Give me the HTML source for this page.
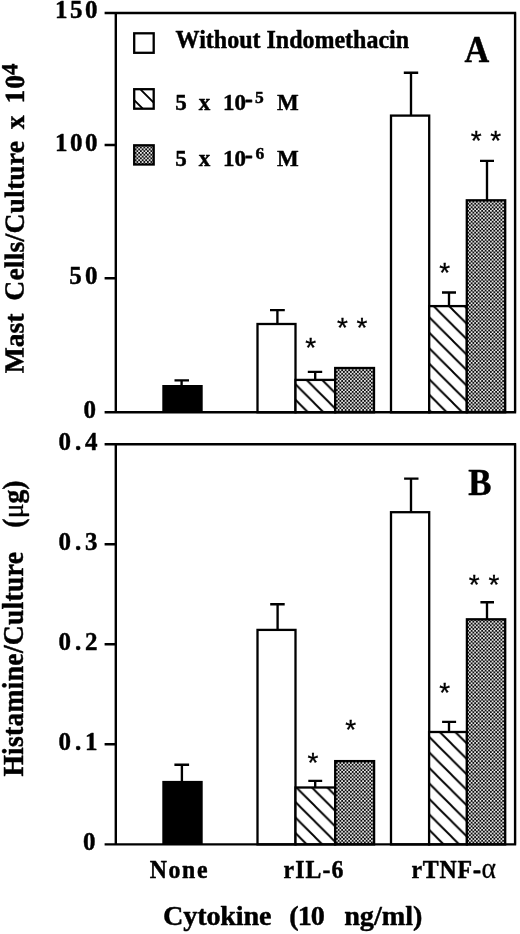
<!DOCTYPE html>
<html lang="en">
<head>
<meta charset="utf-8">
<title>Figure: Mast Cells and Histamine per Culture</title>
<style>
  html, body { margin: 0; padding: 0; background: #ffffff; }
  body { width: 520px; height: 934px; overflow: hidden; }
  svg { display: block; }
  .serif { font-family: "Liberation Serif", "DejaVu Serif", serif; font-weight: bold; fill: #000; stroke: #000; stroke-width: 0.45; stroke-linejoin: round; }
  .sym { font-family: "Liberation Serif", "DejaVu Serif", serif; font-weight: normal; fill: #000; stroke: #000; stroke-width: 0.3; }
  .sans { font-family: "Liberation Sans", "DejaVu Sans", sans-serif; font-weight: normal; fill: #000; stroke: #000; stroke-width: 0.3; }
  .ax { stroke: #000; stroke-width: 2.4; fill: none; stroke-linecap: butt; }
  .bar { stroke: #000; stroke-width: 2.3; }
  .err { stroke: #000; stroke-width: 2.35; fill: none; }
</style>
</head>
<body>
<svg width="520" height="934" viewBox="0 0 520 934">
  <defs>
    <pattern id="hatchA1" patternUnits="userSpaceOnUse" width="15.5" height="15.5" x="4.2" y="0">
      <rect width="15.5" height="15.5" fill="#fff"/>
      <path d="M-1,-1 L16.5,16.5 M-16.5,-1 L1,16.5 M14.5,-1 L32.0,16.5" stroke="#000" stroke-width="1.9" fill="none"/>
    </pattern>
    <pattern id="hatchA2" patternUnits="userSpaceOnUse" width="15.5" height="15.5" x="3.5" y="0">
      <rect width="15.5" height="15.5" fill="#fff"/>
      <path d="M-1,-1 L16.5,16.5 M-16.5,-1 L1,16.5 M14.5,-1 L32.0,16.5" stroke="#000" stroke-width="1.9" fill="none"/>
    </pattern>
    <pattern id="hatchB1" patternUnits="userSpaceOnUse" width="15.5" height="15.5" x="4.9" y="0">
      <rect width="15.5" height="15.5" fill="#fff"/>
      <path d="M-1,-1 L16.5,16.5 M-16.5,-1 L1,16.5 M14.5,-1 L32.0,16.5" stroke="#000" stroke-width="1.9" fill="none"/>
    </pattern>
    <pattern id="hatchB2" patternUnits="userSpaceOnUse" width="15.5" height="15.5" x="2.3" y="0">
      <rect width="15.5" height="15.5" fill="#fff"/>
      <path d="M-1,-1 L16.5,16.5 M-16.5,-1 L1,16.5 M14.5,-1 L32.0,16.5" stroke="#000" stroke-width="1.9" fill="none"/>
    </pattern>
    <pattern id="dots" patternUnits="userSpaceOnUse" width="3.5" height="3.62">
      <rect width="3.5" height="3.62" fill="#0c0c0c"/>
      <circle cx="0.875" cy="0.905" r="0.98" fill="#fff"/>
      <circle cx="2.625" cy="2.715" r="0.98" fill="#fff"/>
    </pattern>
  </defs>

  <rect x="0" y="0" width="520" height="934" fill="#fff"/>

  <!-- ============ PANEL A ============ -->
  <g id="panelA">
    <!-- bars -->
    <rect x="162.3" y="385" width="40.4" height="27.5" fill="#000"/>
    <rect class="bar" x="257.5" y="324" width="38" height="88.3" fill="#fff"/>
    <rect class="bar" x="295.5" y="379.9" width="39.7" height="32.4" fill="url(#hatchA1)" stroke-width="2.6"/>
    <rect class="bar" x="335.2" y="368" width="38.8" height="44.3" fill="url(#dots)"/>
    <rect class="bar" x="391" y="115.6" width="38.2" height="296.7" fill="#fff"/>
    <rect class="bar" x="429.2" y="306.1" width="37.6" height="106.2" fill="url(#hatchA2)"/>
    <rect class="bar" x="466.8" y="200.3" width="38.4" height="212" fill="url(#dots)"/>

    <!-- error bars -->
    <path class="err" d="M181.6,386 V380.3 M174.5,380.3 H189"/>
    <path class="err" d="M277.4,324 V310.1 M270,310.1 H284.8"/>
    <path class="err" d="M315.2,379.9 V371.9 M307.8,371.9 H322.2"/>
    <path class="err" d="M411,115.6 V72.7 M403.8,72.7 H418.2"/>
    <path class="err" d="M449,306 V292.5 M442,292.5 H456" stroke-width="2.8"/>
    <path class="err" d="M487,200.4 V160.9 M480,160.9 H494"/>

    <!-- frame -->
    <path class="ax" d="M104.6,13 H516.2 M115.8,13 V412.3 M515.1,13 V412.3 M104.6,412.3 H516.2"/>
    <path class="ax" d="M104.6,145 H115.8 M104.6,278.2 H115.8"/>

    <!-- tick labels -->
    <text class="serif" font-size="25" letter-spacing="2.5" text-anchor="end" transform="translate(100.1,18.4) scale(1,0.98)">150</text>
    <text class="serif" font-size="25" letter-spacing="2.5" text-anchor="end" transform="translate(100.1,150.5) scale(1,0.98)">100</text>
    <text class="serif" font-size="25" letter-spacing="3.4" text-anchor="end" transform="translate(101.0,283.6) scale(1,0.98)">50</text>
    <text class="serif" font-size="25" text-anchor="end" transform="translate(96.0,417.9) scale(1,0.98)">0</text>

    <!-- legend -->
    <rect class="bar" x="134.2" y="33.3" width="19.5" height="19.5" fill="#fff"/>
    <rect class="bar" x="134.2" y="89.2" width="19.5" height="19.5" fill="#fff"/>
    <path d="M140.7,89.6 L153.7,102.6 M134.2,100.1 L142.8,108.7" stroke="#000" stroke-width="1.9" fill="none"/>
    <rect class="bar" x="134.2" y="145.3" width="19.5" height="19.2" fill="url(#dots)"/>
    <text class="serif" font-size="24" transform="translate(175.6,48) scale(1,1.06)">Without Indomethacin</text>
    <text class="serif" font-size="23" y="110.2"><tspan x="175.3">5</tspan> <tspan x="198.8">x</tspan> <tspan x="223">10</tspan><tspan x="245.1" dy="-3" stroke-width="0.9">-</tspan><tspan x="255" dy="-4" font-size="17.5">5</tspan> <tspan x="277" dy="7">M</tspan></text>
    <text class="serif" font-size="23" y="165.6"><tspan x="175.3">5</tspan> <tspan x="198.8">x</tspan> <tspan x="223">10</tspan><tspan x="245.1" dy="-3" stroke-width="0.9">-</tspan><tspan x="255.6" dy="-4" font-size="17.5">6</tspan> <tspan x="277" dy="7">M</tspan></text>

    <!-- panel letter -->
    <text class="serif" font-size="34.3" transform="translate(464.6,62.3) scale(1,1.12)">A</text>

    <!-- asterisks -->
    <text class="sans" font-size="28" text-anchor="middle" x="310.75" y="357.1">*</text>
    <text class="sans" font-size="28" text-anchor="middle" x="342.5" y="337.1">*</text>
    <text class="sans" font-size="28" text-anchor="middle" x="362" y="337.1">*</text>
    <text class="sans" font-size="28" text-anchor="middle" x="444.6" y="281.5">*</text>
    <text class="sans" font-size="28" text-anchor="middle" x="476.1" y="150.1">*</text>
    <text class="sans" font-size="28" text-anchor="middle" x="495.7" y="150.1">*</text>

    <!-- y axis title -->
    <text class="serif" font-size="27.6" transform="translate(23.4,372.9) rotate(-89.88)" y="0"><tspan x="-0.4">Mast</tspan> <tspan x="72.2" letter-spacing="0.2">Cells/Culture</tspan> <tspan x="243.7">x</tspan> <tspan x="269.5" letter-spacing="0.8">10</tspan><tspan x="297.8" dy="-6.9" font-size="23">4</tspan></text>
  </g>

  <!-- ============ PANEL B ============ -->
  <g id="panelB">
    <!-- bars -->
    <rect x="162.3" y="780.9" width="40.4" height="64" fill="#000"/>
    <rect class="bar" x="257.5" y="629.9" width="38" height="214.5" fill="#fff"/>
    <rect class="bar" x="295.5" y="787.5" width="39.7" height="56.9" fill="url(#hatchB1)" stroke-width="2.6"/>
    <rect class="bar" x="335.2" y="761.1" width="38.9" height="83.3" fill="url(#dots)"/>
    <rect class="bar" x="391" y="512.2" width="38.2" height="332.2" fill="#fff"/>
    <rect class="bar" x="429.1" y="732" width="37.8" height="112.4" fill="url(#hatchB2)"/>
    <rect class="bar" x="466.9" y="619.3" width="38.3" height="225.1" fill="url(#dots)"/>

    <!-- error bars -->
    <path class="err" d="M181.9,782 V764.7 M174.4,764.7 H189.1"/>
    <path class="err" d="M277.6,629.9 V604.2 M270.2,604.2 H284.7"/>
    <path class="err" d="M315.2,787.5 V780.8 M308.3,780.8 H322.2"/>
    <path class="err" d="M411,512.2 V478.6 M404.1,478.6 H418.5"/>
    <path class="err" d="M449,732 V721.9 M442.1,721.9 H456.1"/>
    <path class="err" d="M487,619.3 V602.2 M480.4,602.2 H494"/>

    <!-- frame -->
    <path class="ax" d="M104.6,444.2 H516.2 M115.8,444.2 V844.4 M515.1,444.2 V844.4 M104.6,844.4 H516.2"/>
    <path class="ax" d="M104.6,544.2 H115.8 M104.6,644.3 H115.8 M104.6,744.3 H115.8"/>

    <!-- tick labels -->
    <text class="serif" font-size="25" letter-spacing="3.9" text-anchor="end" transform="translate(101.5,449.5) scale(1,0.98)">0.4</text>
    <text class="serif" font-size="25" letter-spacing="3.9" text-anchor="end" transform="translate(101.5,549.6) scale(1,0.98)">0.3</text>
    <text class="serif" font-size="25" letter-spacing="3.9" text-anchor="end" transform="translate(101.5,649.7) scale(1,0.98)">0.2</text>
    <text class="serif" font-size="25" letter-spacing="3.9" text-anchor="end" transform="translate(101.5,749.7) scale(1,0.98)">0.1</text>
    <text class="serif" font-size="25" text-anchor="end" transform="translate(95.6,850.2) scale(1,0.98)">0</text>

    <!-- panel letter -->
    <text class="serif" font-size="34.8" transform="translate(468.3,495.3) scale(1,1.08)">B</text>

    <!-- asterisks -->
    <text class="sans" font-size="28" text-anchor="middle" x="313" y="771.5">*</text>
    <text class="sans" font-size="28" text-anchor="middle" x="350.6" y="739.1">*</text>
    <text class="sans" font-size="28" text-anchor="middle" x="444.6" y="701.8">*</text>
    <text class="sans" font-size="28" text-anchor="middle" x="474.2" y="593.6">*</text>
    <text class="sans" font-size="28" text-anchor="middle" x="493.9" y="593.6">*</text>

    <!-- y axis title -->
    <text class="serif" font-size="27.6" transform="translate(22.6,776.2) rotate(-90) scale(1,1.03)" y="0"><tspan x="-0.4" textLength="224.5">Histamine/Culture</tspan> <tspan x="248.4" letter-spacing="0.3">(</tspan><tspan class="sym">μ</tspan><tspan>g)</tspan></text>

    <!-- x tick labels -->
    <text class="serif" font-size="23.8" letter-spacing="1.6" transform="translate(149.8,878) scale(1,1.07)">None</text>
    <text class="serif" font-size="23.8" letter-spacing="1.1" transform="translate(283.6,878) scale(1,1.07)">rIL-6</text>
    <text class="serif" font-size="23.8" transform="translate(411.4,878) scale(1,1.07)"><tspan x="0" letter-spacing="0.8">rTNF</tspan><tspan x="61.5" stroke-width="0.9">-</tspan><tspan class="sym" font-size="27.5" x="70.2">α</tspan></text>

    <!-- x axis title -->
    <text class="serif" font-size="28.2" y="925"><tspan x="163" letter-spacing="-0.15">Cytokine</tspan> <tspan x="289.2" letter-spacing="-0.9">(10</tspan> <tspan x="344.2">ng/ml)</tspan></text>
  </g>
</svg>
</body>
</html>
